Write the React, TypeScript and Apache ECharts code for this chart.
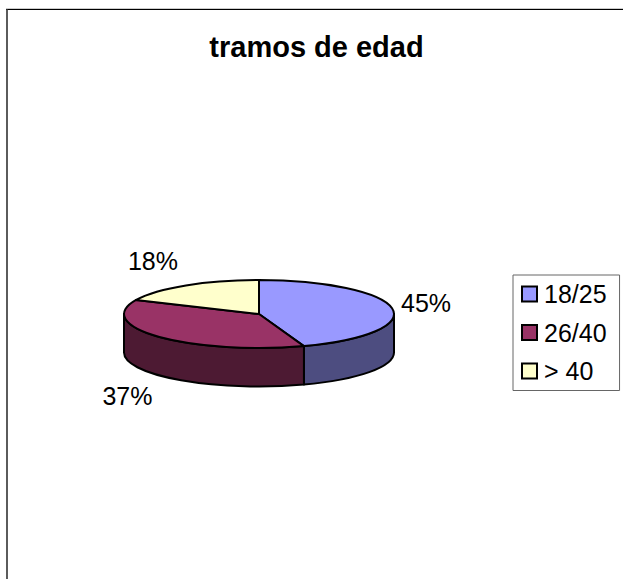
import React, { useEffect, useRef } from "react";
import * as echarts from "echarts";

const categories = ["18/25", "26/40", "> 40"];
const seriesValues = [44.6, 37.2, 18.2];
const topColors = ["#9999FF", "#993366", "#FFFFCC"];
const sideColors = ["#4D4D80", "#4D1A33", "#808066"];
const titleText = "tramos de edad";

const FONT = '"Liberation Sans", Arial, sans-serif';
const CX = 259;
const CY = 314;
const RX = 135;
const RY = 34;
const DEPTH = 38.5;
const labelOffsets = [
  [34, -5],
  [-32, 59],
  [-33, -24],
];

const total = seriesValues.reduce((a, b) => a + b, 0);
const toAngle = (v: number) => (v / total) * Math.PI * 2;
const px = (a: number) => CX + RX * Math.sin(a);
const py = (a: number) => CY - RY * Math.cos(a);

function renderSlice(index: number) {
  return (_params: any, api: any) => {
    const value = api.value(0);
    const start = seriesValues.slice(0, index).reduce((s, v) => s + toAngle(v), 0);
    const end = start + toAngle(value);
    const large = end - start > Math.PI ? 1 : 0;
    const topPath = `M${CX} ${CY}L${px(start)} ${py(start)}A${RX} ${RY} 0 ${large} 1 ${px(end)} ${py(end)}Z`;
    const children: any[] = [];
    // Front wall: the part of the slice between 90 and 270 degrees.
    const s = Math.max(start, Math.PI / 2);
    const e = Math.min(end, (Math.PI * 3) / 2);
    if (e > s) {
      const sidePath =
        `M${px(s)} ${py(s)}A${RX} ${RY} 0 0 1 ${px(e)} ${py(e)}` +
        `L${px(e)} ${py(e) + DEPTH}A${RX} ${RY} 0 0 0 ${px(s)} ${py(s) + DEPTH}Z`;
      children.push({
        type: "path",
        shape: { pathData: sidePath },
        style: { fill: sideColors[index], stroke: "#000", lineWidth: 2, lineJoin: "round" },
      });
    }
    children.push({
      type: "path",
      shape: { pathData: topPath },
      style: { fill: topColors[index], stroke: "#000", lineWidth: 2, lineJoin: "round" },
    });
    const mid = (start + end) / 2;
    children.push({
      type: "text",
      style: {
        text: `${Math.round(value)}%`,
        x: px(mid) + labelOffsets[index][0],
        y: py(mid) + labelOffsets[index][1],
        fill: "#000",
        font: `25px ${FONT}`,
        align: "center",
        verticalAlign: "middle",
      },
    });
    return { type: "group", children };
  };
}

export default function App() {
  const ref = useRef<HTMLDivElement>(null);
  useEffect(() => {
    document.body.style.margin = "0";
    const chart = echarts.init(ref.current!, null, { renderer: "svg" });
    chart.setOption({
      animation: false,
      backgroundColor: "#fff",
      title: {
        text: titleText,
        left: 316.5,
        top: 32,
        padding: 0,
        textAlign: "center",
        textStyle: { fontFamily: FONT, fontSize: 29, fontWeight: "bold", color: "#000" },
      },
      legend: {
        show: true,
        orient: "vertical",
        left: 513,
        top: 275,
        padding: [6.5, 13, 7, 8],
        itemGap: 13.5,
        itemWidth: 15,
        itemHeight: 15,
        borderColor: "#666",
        borderWidth: 1,
        backgroundColor: "#fff",
        selectedMode: false,
        textStyle: { fontFamily: FONT, fontSize: 25, color: "#000", padding: [0, 0, 0, 2] },
        data: categories.map((name, i) => ({
          name,
          icon: "rect",
          itemStyle: { color: topColors[i], borderColor: "#000", borderWidth: 2 },
        })),
      },
      series: categories.map((name, i) => ({
        type: "custom",
        name,
        coordinateSystem: "none",
        renderItem: renderSlice(i),
        data: [[seriesValues[i]]],
        silent: true,
      })),
      graphic: [
        { type: "line", shape: { x1: 6, y1: 8.5, x2: 623, y2: 8.5 }, style: { stroke: "#ccc", lineWidth: 1 } },
        { type: "line", shape: { x1: 6, y1: 9.5, x2: 623, y2: 9.5 }, style: { stroke: "#000", lineWidth: 1.2 } },
        { type: "line", shape: { x1: 7, y1: 9, x2: 7, y2: 579 }, style: { stroke: "#333", lineWidth: 1.6 } },
      ],
    });
    return () => chart.dispose();
  }, []);
  return <div ref={ref} style={{ width: 623, height: 579 }} />;
}
